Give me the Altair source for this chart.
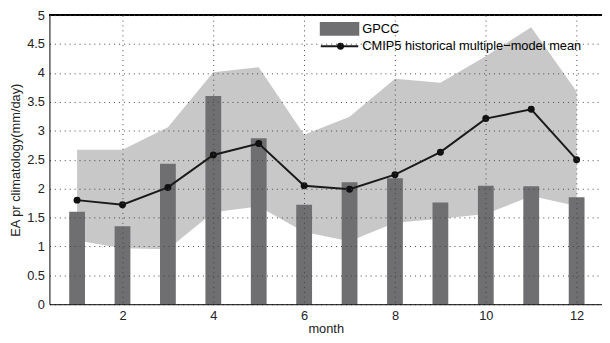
import altair as alt
import pandas as pd

months = list(range(1, 13))
gpcc = [1.60, 1.35, 2.43, 3.60, 2.87, 1.72, 2.11, 2.18, 1.76, 2.05, 2.04, 1.85]
cmip_mean = [1.80, 1.72, 2.02, 2.58, 2.78, 2.05, 1.99, 2.24, 2.63, 3.21, 3.37, 2.50]
cmip_lower = [1.10, 0.97, 0.95, 1.59, 1.69, 1.25, 1.09, 1.41, 1.48, 1.56, 1.87, 1.70]
cmip_upper = [2.67, 2.67, 3.06, 4.01, 4.10, 2.93, 3.24, 3.90, 3.83, 4.29, 4.79, 3.68]

x_ticks = [2, 4, 6, 8, 10, 12]
y_ticks = [0.0, 0.5, 1.0, 1.5, 2.0, 2.5, 3.0, 3.5, 4.0, 4.5, 5.0]
legend_labels = ["GPCC", "CMIP5 historical multiple\u2212model mean"]

df = pd.DataFrame({
    "month": months,
    "gpcc": gpcc,
    "mean": cmip_mean,
    "lower": cmip_lower,
    "upper": cmip_upper,
})

W, H = 560, 293
FONT = "Liberation Sans"
YTITLE = "EA pr climatology(mm/day)"

xscale = alt.Scale(domain=[0.5, 12.45], nice=False, zero=False)
yscale = alt.Scale(domain=[0, 5], nice=False, zero=True)

xaxis = alt.Axis(
    values=x_ticks, title="month", grid=True, gridDash=[1, 4], gridColor="#444",
    gridWidth=1, ticks=False, domainColor="#000", labelPadding=6,
    titleBaseline="alphabetic", titleY=29, zindex=1, labelOverlap=False,
)
yaxis = alt.Axis(
    values=y_ticks, labelExpr="format(datum.value, '~g')",
    title=YTITLE, grid=True,
    gridDash=[1, 4], gridColor="#444", gridWidth=1, ticks=False,
    domainColor="#000", labelPadding=5, titleBaseline="alphabetic",
    titleX=-30, titleY=H / 2, zindex=1, labelOverlap=False,
)

base = alt.Chart(df)

band = base.mark_area(color="#c8c8c9", opacity=1).encode(
    x=alt.X("month:Q", scale=xscale, axis=xaxis, title="month"),
    y=alt.Y("upper:Q", scale=yscale, axis=yaxis, title=YTITLE),
    y2="lower:Q",
)

bars = base.mark_bar(color="#6f6f71", size=16).encode(
    x=alt.X("month:Q", scale=xscale, axis=xaxis, title="month"),
    y=alt.Y("gpcc:Q", scale=yscale, axis=yaxis, title=YTITLE),
)

line = base.mark_line(color="#1a1a1a", strokeWidth=2).encode(
    x=alt.X("month:Q", scale=xscale, axis=xaxis, title="month"),
    y=alt.Y("mean:Q", scale=yscale, axis=yaxis, title=YTITLE),
)

points = base.mark_point(filled=True, color="#111", size=50, opacity=1).encode(
    x=alt.X("month:Q", scale=xscale, axis=xaxis, title="month"),
    y=alt.Y("mean:Q", scale=yscale, axis=yaxis, title=YTITLE),
)

top_border = base.mark_rule(color="#000", strokeWidth=1).encode(
    x=alt.value(0), x2=alt.value(W), y=alt.value(0)
)

leg_df = pd.DataFrame({"label": legend_labels})
leg = alt.Chart(leg_df)

leg_rect = leg.transform_filter(alt.datum.label == legend_labels[0]).mark_rect(
    color="#6f6f71"
).encode(x=alt.value(274), x2=alt.value(314), y=alt.value(7), y2=alt.value(21))

leg_line = leg.transform_filter(alt.datum.label == legend_labels[1]).mark_rule(
    color="#1a1a1a", strokeWidth=2
).encode(x=alt.value(275), x2=alt.value(313), y=alt.value(31.5))

leg_pt = leg.transform_filter(alt.datum.label == legend_labels[1]).mark_point(
    filled=True, color="#111", size=50, opacity=1
).encode(x=alt.value(295), y=alt.value(31.5))

leg_text1 = leg.transform_filter(alt.datum.label == legend_labels[0]).mark_text(
    align="left", baseline="middle", fontSize=13, font=FONT, color="#000"
).encode(x=alt.value(317), y=alt.value(14), text="label:N")

leg_text2 = leg.transform_filter(alt.datum.label == legend_labels[1]).mark_text(
    align="left", baseline="middle", fontSize=13, font=FONT, color="#000"
).encode(x=alt.value(317), y=alt.value(31.5), text="label:N")

chart = alt.layer(
    band, bars, line, points, top_border,
    leg_rect, leg_line, leg_pt, leg_text1, leg_text2,
).properties(
    width=W, height=H,
    autosize=alt.AutoSizeParams(type="none"),
    padding={"left": 42, "top": 5, "right": 0, "bottom": 29},
).configure_view(
    stroke=None
).configure_axis(
    labelFont=FONT, titleFont=FONT, labelFontSize=13, titleFontSize=13,
    labelColor="#222", titleColor="#222", titleFontWeight="normal",
)

chart.save("out.html", embed_options={"renderer": "svg", "actions": False})
